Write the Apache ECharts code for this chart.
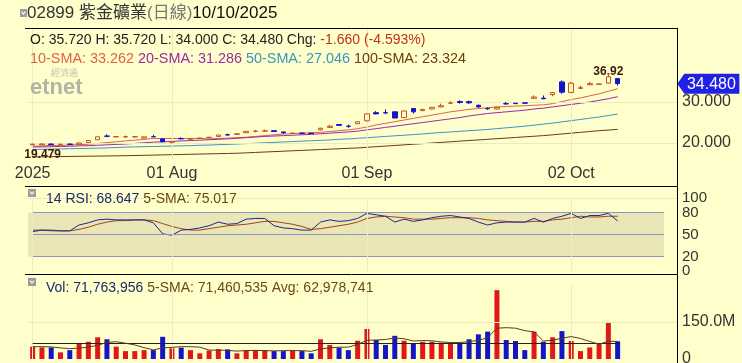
<!DOCTYPE html>
<html><head><meta charset="utf-8">
<script src="https://cdn.jsdelivr.net/npm/echarts@6/dist/echarts.min.js"></script>
<style>html,body{margin:0;padding:0;background:#ffffcc;}#c{width:742px;height:363px;}</style>
</head><body><div id="c"></div>
<script>
// ---------- data ----------
const dates = [
 '2025-07-11','2025-07-14','2025-07-15','2025-07-16','2025-07-17','2025-07-18','2025-07-21','2025-07-22','2025-07-23','2025-07-24','2025-07-25','2025-07-28','2025-07-29','2025-07-30','2025-07-31',
 '2025-08-01','2025-08-04','2025-08-05','2025-08-06','2025-08-07','2025-08-08','2025-08-11','2025-08-12','2025-08-13','2025-08-14','2025-08-15','2025-08-18','2025-08-19','2025-08-20','2025-08-21','2025-08-22','2025-08-25','2025-08-26','2025-08-27','2025-08-28','2025-08-29',
 '2025-09-01','2025-09-02','2025-09-03','2025-09-04','2025-09-05','2025-09-08','2025-09-09','2025-09-10','2025-09-11','2025-09-12','2025-09-15','2025-09-16','2025-09-17','2025-09-18','2025-09-19','2025-09-22','2025-09-23','2025-09-24','2025-09-25','2025-09-26','2025-09-29','2025-09-30',
 '2025-10-02','2025-10-03','2025-10-06','2025-10-08','2025-10-09','2025-10-10'];
const opens  = [19.55,19.55,19.75,19.6,19.75,19.7,20.1,20.8,21.7,21.5,21.5,21.5,21.2,21.55,21.0,20.2,21.1,20.9,21.1,21.3,21.6,22.0,22.1,22.5,22.85,22.9,23.0,22.7,22.35,22.45,22.4,23.2,23.8,24.5,24.1,24.7,25.4,27.4,27.4,27.6,26.2,28.4,27.9,28.3,28.8,29.7,30.1,30.1,29.2,28.4,28.3,29.6,29.7,29.8,30.9,30.95,31.8,34.9,32.3,33.3,34.2,34.3,34.6,35.72];
const highs  = [19.85,19.9,19.85,19.8,19.85,20.1,20.7,21.6,22.1,21.6,21.8,21.7,21.6,22.0,21.1,20.4,21.4,21.1,21.3,21.5,22.0,22.3,22.3,22.9,23.2,23.3,23.05,22.75,22.5,22.5,22.45,23.7,24.4,24.6,24.5,25.3,27.2,27.8,28.2,27.7,27.9,28.5,28.3,28.8,29.6,30.2,30.4,30.3,29.4,28.7,28.8,30.0,29.8,29.9,31.6,31.6,32.4,35.3,34.9,34.0,34.9,34.5,36.92,35.72];
const lows   = [19.479,19.5,19.5,19.55,19.55,19.6,20.0,20.7,21.4,21.45,21.3,21.3,21.15,21.45,20.2,19.9,20.9,20.8,21.0,21.2,21.5,21.9,22.0,22.4,22.6,22.8,22.7,22.2,22.3,22.25,22.25,23.1,23.7,24.2,23.7,24.6,25.3,27.0,27.0,26.0,26.1,27.2,27.8,28.2,28.7,29.5,29.6,29.5,28.6,28.1,28.2,29.3,29.5,29.6,30.8,30.7,31.4,32.0,32.2,33.2,34.1,34.2,34.5,34.0];
const closes = [19.7,19.75,19.6,19.7,19.65,20.0,20.6,21.5,21.65,21.55,21.55,21.55,21.5,21.5,20.3,20.3,21.0,21.0,21.2,21.4,21.95,21.95,22.25,22.85,22.9,22.95,22.8,22.5,22.4,22.3,22.3,23.6,24.1,24.3,24.05,25.2,27.1,27.1,27.35,26.1,27.8,27.6,28.2,28.7,29.1,29.75,29.9,29.8,28.8,28.35,28.7,29.55,29.6,29.7,31.2,30.8,32.3,32.4,34.6,33.5,34.5,34.4,36.14,34.48];
const sma10  = [19.2,19.3,19.4,19.4,19.5,19.6,19.7,19.9,20.1,20.3,20.5,20.7,20.9,21.1,21.1,21.1,21.1,21.1,21.1,21.0,21.1,21.2,21.3,21.4,21.6,21.8,22.0,22.2,22.3,22.4,22.5,22.6,22.8,23.0,23.2,23.5,23.9,24.4,24.8,25.2,25.6,26.0,26.4,26.8,27.2,27.6,27.9,28.2,28.4,28.6,28.8,28.9,29.0,29.1,29.2,29.3,29.6,30.1,30.6,31.0,31.5,32.0,32.6,33.262];
const sma20  = [19.0,19.05,19.1,19.15,19.2,19.3,19.35,19.45,19.55,19.65,19.75,19.9,20.05,20.2,20.3,20.4,20.5,20.6,20.7,20.8,20.9,21.0,21.15,21.3,21.45,21.6,21.7,21.8,21.9,22.0,22.1,22.25,22.4,22.55,22.7,22.9,23.2,23.5,23.8,24.1,24.4,24.7,25.0,25.3,25.6,25.9,26.2,26.6,26.9,27.2,27.4,27.6,27.8,28.0,28.3,28.5,28.8,29.1,29.4,29.7,30.0,30.4,30.8,31.286];
const sma50  = [18.4,18.45,18.5,18.55,18.6,18.65,18.7,18.75,18.8,18.9,19.0,19.05,19.1,19.15,19.2,19.25,19.3,19.35,19.45,19.5,19.6,19.65,19.75,19.85,19.95,20.05,20.15,20.25,20.35,20.45,20.55,20.65,20.75,20.9,21.0,21.15,21.3,21.45,21.6,21.75,21.9,22.05,22.2,22.4,22.55,22.7,22.85,23.0,23.15,23.3,23.5,23.7,23.9,24.1,24.35,24.6,24.85,25.15,25.45,25.75,26.05,26.35,26.7,27.046];
const sma100 = [16.6,16.63,16.66,16.69,16.72,16.75,16.78,16.81,16.84,16.87,16.9,16.95,17.0,17.05,17.1,17.15,17.2,17.25,17.3,17.35,17.4,17.45,17.5,17.6,17.7,17.8,17.9,18.0,18.1,18.2,18.3,18.4,18.5,18.6,18.7,18.8,18.95,19.1,19.25,19.4,19.55,19.7,19.85,20.0,20.15,20.3,20.45,20.6,20.75,20.9,21.05,21.2,21.35,21.5,21.65,21.8,22.0,22.2,22.4,22.6,22.8,23.0,23.15,23.324];
const rsi14  = [54,56,56,55,55,63,66,70,71,70,70,70,70,66,51,49,56,57,59,62,67,64,65,71,72,72,62,59,58,56,56,67,70,68,69,72,79,77,75,67,71,68,70,73,75,76,74,72,67,63,66,67,67,67,72,67,72,75,79,72,76,76,79,68.647];
const rsiSma5= [56,56,55,55,55,57,60,64,67,69,69,70,70,69,65,61,58,56,56,58,60,62,63,64,66,68,68,66,64,61,57,58,60,62,64,67,72,74,75,74,73,71,71,71,72,73,73,73,72,70,69,68,67,67,68,68,70,71,73,75,74,74,75,75.017];
const volM   = [50,47,47,27,36,61,70,88,80,50,32,32,36,36,90,43,46,36,23,34,40,39,23,36,36,36,32,32,36,32,23,80,57,46,36,74,122,77,57,94,74,63,70,70,66,66,66,80,100,111,279,77,73,36,111,70,88,113,73,32,47,61,147,71.763956];
const volSma5M=[50,50,49,45,42,44,48,56,67,70,64,57,46,37,45,47,50,50,48,36,36,35,32,34,35,34,33,34,34,34,31,41,45,48,48,59,76,77,79,85,82,73,75,74,69,67,67,70,76,86,125,127,125,115,110,73,76,84,91,83,71,60,72,71.460535];
const volAvgM = 62.978741;
const blankSlots = 6;
const tickDates  = ['2025-07-11','2025-08-01','2025-09-01','2025-10-02'];
const tickLabels = ['2025','01 Aug','01 Sep','02 Oct'];
const priceTicks = [20,30];
const rsiTicksA = [0,50,100];
const rsiTicksB = [20,80];
const volTicks = [0,150];
const rsiBand = [20,80];
const rsiLevels = [20,50,80];
const lastClose = 34.48;

// ---------- chart ----------
const FONT = '"Liberation Sans", Arial, "Noto Sans CJK TC", sans-serif';
const UP = '#c8501e', DOWN = '#1414c8', RED = '#e01818', BLUE = '#1414c8';
const C10 = '#e0604c', C20 = '#9a2aa8', C50 = '#3c94c0', C100 = '#6a3c10';
const cats = dates.concat(Array.from({length: blankSlots}, (_, i) => 'pad' + i));
const lastCat = dates[dates.length - 1];
const candleData = dates.map((d, i) => [opens[i], closes[i], lows[i], highs[i]]);
const volData = dates.map((d, i) => ({value: volM[i], itemStyle: {color: closes[i] >= opens[i] ? RED : BLUE}}));
const GL = 28, GR = 64;
const vGrid = tickDates.map(d => ({xAxis: d}));

function xAx(gi, showLabel) {
  return {
    type: 'category', gridIndex: gi, data: cats, boundaryGap: true,
    axisLine: {show: false}, axisTick: {show: false}, splitLine: {show: false},
    axisLabel: showLabel ? {
      show: true, interval: (idx, val) => tickDates.indexOf(val) >= 0,
      formatter: val => tickLabels[tickDates.indexOf(val)] || '',
      fontSize: 16, color: '#333', fontFamily: FONT, margin: 6
    } : {show: false}
  };
}
function yAx(gi, min, max, ticks, fmt, fs) {
  return {
    type: 'value', gridIndex: gi, position: 'right', min, max,
    axisLine: {show: false}, axisTick: {show: false}, splitLine: {show: false},
    axisLabel: {customValues: ticks, formatter: fmt, fontSize: fs, color: '#333', fontFamily: FONT, margin: 4,
                showMinLabel: true, showMaxLabel: true, hideOverlap: false}
  };
}
const thinLine = (c, w) => ({color: c, width: w || 1});
const TZ = 100;
const gridBase = {left: GL, right: GR, containLabel: false, outerBoundsMode: 'none'};

const option = {
  backgroundColor: '#ffffcc',
  animation: false,
  textStyle: {fontFamily: FONT},
  grid: [
    Object.assign({top: 28.2, height: 131.2}, gridBase),
    Object.assign({top: 198, height: 73}, gridBase),
    Object.assign({top: 285, height: 74}, gridBase)
  ],
  xAxis: [xAx(0, true), xAx(1, false), xAx(2, false)],
  yAxis: [
    yAx(0, 16, 48, priceTicks, v => v.toFixed(3), 16),
    yAx(1, 0, 100, rsiTicksA, v => String(v), 15),
    yAx(2, 0, 300, volTicks, v => v === 0 ? '0' : v.toFixed(1) + 'M', 16),
    yAx(1, 0, 100, rsiTicksB, v => String(v), 15)
  ],
  series: [
    {
      type: 'candlestick', xAxisIndex: 0, yAxisIndex: 0, data: candleData, barWidth: 5, z: 6,
      itemStyle: {color: 'rgba(0,0,0,0)', color0: DOWN, borderColor: UP, borderColor0: DOWN, borderColorDoji: '#333', borderWidth: 1},
      markPoint: {
        symbol: 'circle', symbolSize: 0, silent: true,
        label: {fontFamily: FONT, fontWeight: 'bold', fontSize: 12, color: '#3a1a0a', formatter: p => String(p.value)},
        data: [
          {type: 'max', valueDim: 'highest', label: {position: 'inside', offset: [0, -2]}},
          {type: 'min', valueDim: 'lowest', label: {position: 'inside', offset: [10, 10]}},
          {coord: [cats[cats.length - 1], lastClose], symbol: 'path://M0,10 L7,0 L62,0 L62,20 L7,20 Z', symbolSize: [62, 20],
           symbolKeepAspect: false, symbolOffset: [35, 0], itemStyle: {color: '#2020e6'},
           label: {position: 'inside', offset: [3, 1], formatter: lastClose.toFixed(3), color: '#fff', fontSize: 16, fontWeight: 'normal'}}
        ]
      }
    },
    {type: 'line', name: '10-SMA', xAxisIndex: 0, yAxisIndex: 0, data: sma10, showSymbol: false, lineStyle: thinLine(C10), silent: true,
     markLine: {silent: true, symbol: ['none','none'], label: {show: false}, lineStyle: {color: '#ecebbf', width: 1, type: 'solid'},
       data: priceTicks.map(v => ({yAxis: v})).concat(vGrid)}},
    {type: 'line', name: '20-SMA', xAxisIndex: 0, yAxisIndex: 0, data: sma20, showSymbol: false, lineStyle: thinLine(C20), silent: true},
    {type: 'line', name: '50-SMA', xAxisIndex: 0, yAxisIndex: 0, data: sma50, showSymbol: false, lineStyle: thinLine(C50), silent: true},
    {type: 'line', name: '100-SMA', xAxisIndex: 0, yAxisIndex: 0, data: sma100, showSymbol: false, lineStyle: thinLine(C100), silent: true},
    {type: 'line', name: 'RSI', xAxisIndex: 1, yAxisIndex: 1, data: rsi14, showSymbol: false, lineStyle: thinLine('#1a2a8c'), silent: true, z: 4,
     markArea: {silent: true, itemStyle: {color: '#eae6b6'},
       data: [[{xAxis: -Infinity, yAxis: rsiBand[0]}, {xAxis: cats[68], yAxis: rsiBand[1]}]]},
     markLine: {silent: true, symbol: ['none','none'], label: {show: false}, lineStyle: {color: '#8c96c0', width: 1, type: 'solid'},
       data: rsiLevels.map(v => [{coord: [cats[0], v]}, {coord: [cats[68], v]}])}},
    {type: 'line', name: 'RSI SMA', xAxisIndex: 1, yAxisIndex: 1, data: rsiSma5, showSymbol: false, lineStyle: thinLine('#a0441c'), silent: true, z: 3,
     markLine: {silent: true, symbol: ['none','none'], label: {show: false}, lineStyle: {color: '#ecebbf', width: 1, type: 'solid'},
       data: [{yAxis: 100}].concat(vGrid)}},
    {type: 'bar', name: 'Vol', xAxisIndex: 2, yAxisIndex: 2, data: volData, barWidth: 5, silent: true,
     markLine: {silent: true, symbol: ['none','none'], label: {show: false}, lineStyle: {color: '#ecebbf', width: 1, type: 'solid'},
       data: [{yAxis: 150}].concat(vGrid)}},
    {type: 'line', name: 'Vol SMA', xAxisIndex: 2, yAxisIndex: 2, data: volSma5M, showSymbol: false, lineStyle: thinLine('#5a3c14'), silent: true, z: 5,
     markLine: {silent: true, symbol: ['none','none'], label: {show: false}, lineStyle: {color: '#222', width: 1, type: 'solid'},
       data: [[{coord: [cats[0], volAvgM]}, {coord: [lastCat, volAvgM]}]]}}
  ],
  graphic: [
    // frame
    {type: 'line', z: TZ, shape: {x1: 25, y1: 28.5, x2: 678, y2: 28.5}, style: {stroke: '#000', lineWidth: 1}, silent: true},
    {type: 'line', z: TZ, shape: {x1: 25, y1: 186.5, x2: 678, y2: 186.5}, style: {stroke: '#000', lineWidth: 1}, silent: true},
    {type: 'line', z: TZ, shape: {x1: 25, y1: 274.5, x2: 678, y2: 274.5}, style: {stroke: '#000', lineWidth: 1}, silent: true},
    {type: 'line', z: TZ, shape: {x1: 677.5, y1: 28, x2: 677.5, y2: 363}, style: {stroke: '#000', lineWidth: 1}, silent: true},
    // icons
    {type: 'rect', z: TZ, shape: {x: 20, y: 9, width: 7, height: 8}, style: {fill: '#9c9c9c'}, silent: true},
    {type: 'polyline', z: TZ, shape: {points: [[21.5, 11.5], [23.5, 14], [25.5, 11.5]]}, style: {stroke: '#fff', lineWidth: 1.2, fill: null}, silent: true},
    {type: 'rect', z: TZ, shape: {x: 28, y: 189, width: 8, height: 8}, style: {fill: '#9c9c9c'}, silent: true},
    {type: 'polyline', z: TZ, shape: {points: [[30, 191.5], [32, 194], [34, 191.5]]}, style: {stroke: '#fff', lineWidth: 1.2, fill: null}, silent: true},
    {type: 'rect', z: TZ, shape: {x: 28, y: 278, width: 8, height: 8}, style: {fill: '#9c9c9c'}, silent: true},
    {type: 'polyline', z: TZ, shape: {points: [[30, 280.5], [32, 283], [34, 280.5]]}, style: {stroke: '#fff', lineWidth: 1.2, fill: null}, silent: true},
    // title
    {type: 'text', z: TZ, x: 27, y: 13, silent: true, style: {
      text: '{a|02899 紫金礦業}{b|(日線)}{c|10/10/2025}', verticalAlign: 'middle',
      rich: {a: {fill: '#333', fontSize: 17, fontFamily: FONT}, b: {fill: '#777', fontSize: 17, fontFamily: FONT}, c: {fill: '#111', fontSize: 17, fontFamily: FONT}}}},
    {type: 'text', z: TZ, x: 30, y: 40, silent: true, style: {
      text: '{k|O: 35.720 H: 35.720 L: 34.000 C: 34.480 Chg: }{r|-1.660 (-4.593%)}', verticalAlign: 'middle',
      rich: {k: {fill: '#222', fontSize: 14, fontFamily: FONT}, r: {fill: '#c03020', fontSize: 14, fontFamily: FONT}}}},
    {type: 'text', z: TZ, x: 30, y: 59, silent: true, style: {
      text: '{a|10-SMA: 33.262 }{b|20-SMA: 31.286 }{c|50-SMA: 27.046 }{d|100-SMA: 23.324}', verticalAlign: 'middle',
      rich: {a: {fill: C10, fontSize: 14.4, fontFamily: FONT}, b: {fill: C20, fontSize: 14.4, fontFamily: FONT},
             c: {fill: C50, fontSize: 14.4, fontFamily: FONT}, d: {fill: C100, fontSize: 14.4, fontFamily: FONT}}}},
    // logo
    {type: 'text', z: TZ, x: 51, y: 73, silent: true, style: {text: '經濟通', fill: '#c4c4b4', font: '9px "Noto Sans CJK TC", sans-serif', verticalAlign: 'middle'}},
    {type: 'text', z: TZ, x: 30, y: 88, silent: true, style: {text: 'etnet', fill: '#b4b4a4', font: 'bold 22px ' + FONT, verticalAlign: 'middle'}},
    // RSI title
    {type: 'text', z: TZ, x: 46, y: 199, silent: true, style: {
      text: '{a|14 RSI: 68.647 }{b|5-SMA: 75.017}', verticalAlign: 'middle',
      rich: {a: {fill: '#1a2a6c', fontSize: 14, fontFamily: FONT}, b: {fill: '#6a4a14', fontSize: 14, fontFamily: FONT}}}},
    // Vol title
    {type: 'text', z: TZ, x: 46, y: 288, silent: true, style: {
      text: '{a|Vol: 71,763,956 }{b|5-SMA: 71,460,535 Avg: 62,978,741}', verticalAlign: 'middle',
      rich: {a: {fill: '#1a2a6c', fontSize: 14, fontFamily: FONT}, b: {fill: '#6a4a14', fontSize: 14, fontFamily: FONT}}}}
  ]
};
const chart = echarts.init(document.getElementById('c'));
chart.setOption(option);
</script></body></html>
